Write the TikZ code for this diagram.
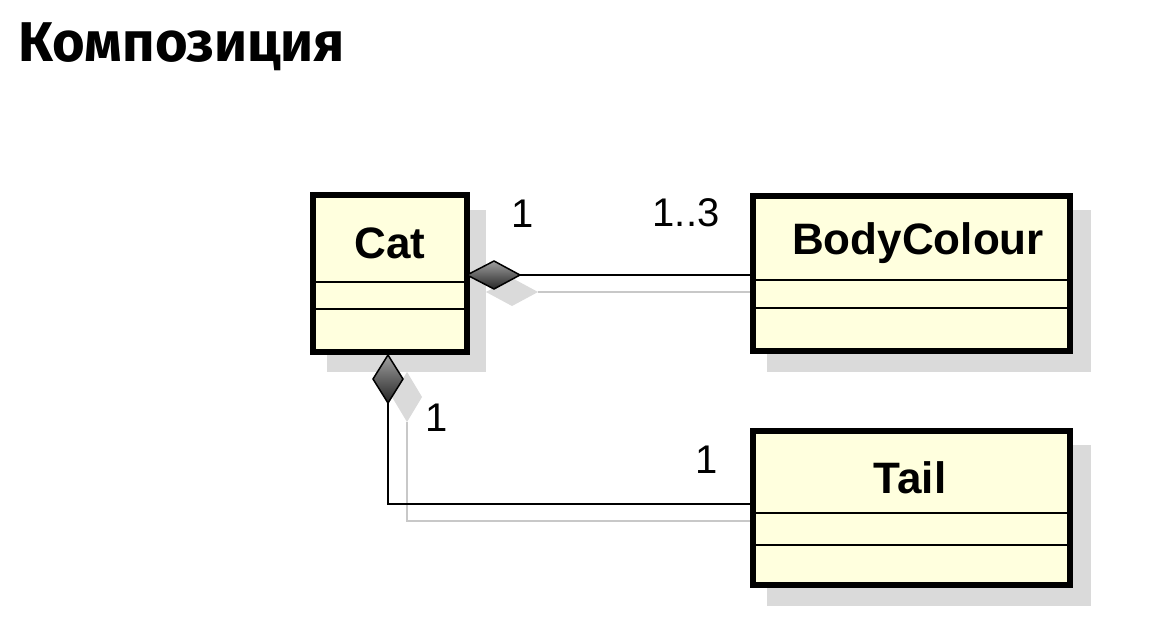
\documentclass[tikz,border=0pt]{standalone}
\usepackage{fontspec}
\setmainfont{Liberation Sans}
\newfontfamily\titlefont{Fira Sans}
\definecolor{boxfill}{RGB}{255,255,222}
\definecolor{shadowgray}{RGB}{218,218,218}
\definecolor{shadowline}{RGB}{200,200,200}
\begin{document}
\begin{tikzpicture}[x=1pt,y=-1pt,
  umlbox/.style={draw=black, line width=6pt, fill=boxfill, inner sep=0pt, outer sep=0pt},
  shadowbox/.style={fill=shadowgray, draw=none},
  sep/.style={line width=2.5pt, black},
  conn/.style={line width=2.8pt, black},
  shconn/.style={line width=2pt, shadowline},
  classname/.style={font=\fontsize{44}{48}\selectfont\bfseries, inner sep=0pt},
  mult/.style={font=\fontsize{40}{44}\selectfont, inner sep=0pt},
  dia/.style={draw=black, line width=1.5pt, line join=miter, top color=gray!75, bottom color=black!85},
  shdia/.style={fill=shadowgray, draw=none}]
\useasboundingbox[fill=white] (0,0) rectangle (1160,642);

% title
\node[anchor=base west, inner sep=0pt, font=\titlefont\fontsize{56}{60}\selectfont\bfseries] (title) at (18,62) {Композиция};

% shadows of boxes
\fill[shadowgray] (327,210) rectangle (486,372);
\fill[shadowgray] (767,210) rectangle (1091,372);
\fill[shadowgray] (767,445) rectangle (1091,606);

% shadow connectors
\fill[shdia] (486,292) -- (512,278) -- (538,292) -- (512,306) -- cycle;
\draw[shconn] (538,292) -- (768,292);
\fill[shdia] (407,372) -- (422,397) -- (407,422) -- (392,397) -- cycle;
\draw[shconn] (407,422) -- (407,521) -- (768,521);

% class boxes
\node[umlbox, minimum width=154pt, minimum height=157pt] (cat) at (390,273.5) {};
\node[umlbox, minimum width=317pt, minimum height=155pt] (body) at (911.5,273.5) {};
\node[umlbox, minimum width=317pt, minimum height=154pt] (tail) at (911.5,508) {};

% compartments
\draw[sep] (cat.west |- 0,282) -- (cat.east |- 0,282);
\draw[sep] (cat.west |- 0,309) -- (cat.east |- 0,309);
\draw[sep] (body.west |- 0,280) -- (body.east |- 0,280);
\draw[sep] (body.west |- 0,308) -- (body.east |- 0,308);
\draw[sep] (tail.west |- 0,513) -- (tail.east |- 0,513);
\draw[sep] (tail.west |- 0,545) -- (tail.east |- 0,545);

% names
\node[classname] (catname) at (390,243) {Cat};
\node[classname] (bodyname) at (918,243) {BodyColour};
\node[classname] (tailname) at (910,478) {Tail};

% composition Cat -> BodyColour
\coordinate (d1a) at (cat.east |- 0,275);
\coordinate (d1b) at (520,275);
\draw[conn] (d1b) -- (d1b -| body.west);
\path[dia] (d1a) -- (494,261) -- (d1b) -- (494,289) -- cycle;

% composition Cat -> Tail
\coordinate (d2a) at (388,355);
\coordinate (d2b) at (388,403);
\draw[conn] (d2b) -- (d2b |- 0,504) -- (tail.west |- 0,504);
\path[dia] (d2a) -- (403,379) -- (d2b) -- (373,379) -- cycle;

% multiplicities
\node[mult] (m1) at (523,214) {1};
\node[mult] (m2) at (686,213) {1..3};
\node[mult] (m3) at (437,418) {1};
\node[mult] (m4) at (707,460) {1};
\end{tikzpicture}
\end{document}
